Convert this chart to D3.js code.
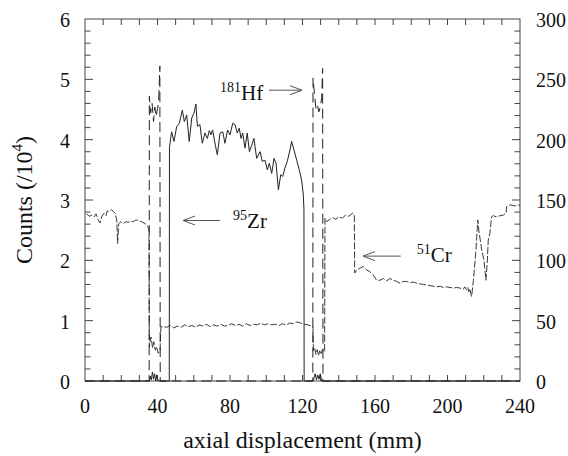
<!DOCTYPE html>
<html>
<head>
<meta charset="utf-8">
<script src="https://cdn.jsdelivr.net/npm/d3@7"></script>
<style>
  html, body { margin: 0; padding: 0; background: #fff; }
  svg { display: block; font-family: "Liberation Serif", "DejaVu Serif", serif; }
</style>
</head>
<body>
<svg id="chart"></svg>
<script>
// axial displacement (mm) / counts
const zrX = [0, 35.5, 36, 36.6, 37.2, 37.8, 38.4, 39, 39.6, 40.2, 41, 46.5, 46.6, 47.8, 49.1, 50.6, 52, 53.7, 54.8, 56.1, 57.5, 58.9, 60.1, 61.2, 62, 63.4, 64.7, 66.2, 67.5, 68.6, 69.5, 70.4, 71.9, 73, 74.5, 76, 77.2, 78.7, 80, 81.5, 82.8, 84, 85.1, 86.1, 87, 88.3, 89.5, 90.7, 92, 93.2, 94.7, 96.6, 97.8, 99.3, 100.6, 101.7, 103, 104.3, 105.4, 106.7, 108, 109.1, 110.3, 111.6, 113.1, 114, 115.3, 116.8, 118.2, 119.5, 120.4, 120.8, 120.9, 125.8, 126.3, 127, 127.7, 128.4, 129.1, 129.8, 130.5, 240];
const zrY = [0, 0, 0.08, 0.02, 0.15, 0.03, 0.12, 0, 0.1, 0.02, 0, 0, 3.87, 4.13, 3.97, 4.22, 4.27, 4.49, 4.30, 4.41, 3.97, 4.36, 4.44, 4.59, 4.22, 4.25, 3.94, 4.11, 4.02, 4.15, 4.08, 4.16, 3.91, 3.75, 4.11, 4.13, 3.94, 4.16, 4.08, 4.27, 4.25, 4.11, 4.19, 4.02, 4.11, 3.86, 4.11, 3.80, 3.91, 4.02, 3.69, 3.80, 3.64, 3.66, 3.50, 3.61, 3.44, 3.69, 3.61, 3.17, 3.42, 3.39, 3.53, 3.64, 3.83, 3.97, 3.83, 3.66, 3.50, 3.33, 3.10, 2.85, 0, 0, 0.05, 0.12, 0.02, 0.1, 0.03, 0.12, 0, 0];

const hfX = [0, 35.4, 35.5, 36.2, 37, 37.8, 38.5, 39.3, 40, 40.6, 41.3, 41.5, 125.7, 125.8, 126.6, 127.4, 128.2, 129, 129.8, 130.6, 131.1, 131.3, 240];
const hfY = [0, 0, 236, 222, 230, 215, 227, 219, 226, 230, 261, 0, 0, 251, 238, 226, 229, 223, 227, 235, 259, 0, 0];

const crX = [0.9, 2.4, 3.7, 5, 6.1, 7.3, 8.3, 9.2, 10.5, 11.6, 12.3, 13.4, 14.7, 15.6, 16.6, 17.5, 18, 18.6, 19.7, 21.1, 22.6, 23.9, 25.2, 26.7, 28.1, 29.4, 31.3, 33.1, 34.6, 35.3, 35.5, 36.4, 37.3, 38, 38.8, 39.5, 40.4, 41.4, 41.9, 43.2, 45, 47, 49, 51, 53, 55, 57, 59, 61, 63, 65, 67, 69, 71, 73, 75, 77, 79, 81, 83, 85, 87, 89, 91, 93, 95, 97, 99, 101, 103, 105, 107, 109, 111, 113, 115, 117, 119, 121, 123, 125, 125.8, 126, 126.7, 127.4, 128.1, 128.8, 129.5, 130.2, 131, 132.2, 132.4, 133.2, 134.7, 136.5, 138.3, 140.1, 142, 143.8, 145.6, 147.5, 148.6, 148.8, 149.9, 151.7, 153.6, 155.4, 157.2, 159, 160.9, 162.8, 164.6, 166.5, 168.3, 170.1, 172, 173.8, 175.6, 177.5, 179.3, 181.2, 183, 184.9, 186.7, 188.6, 190.4, 192.3, 194, 195.9, 197.8, 199.6, 201.4, 203.2, 205, 206.9, 208.7, 209.5, 210.6, 211.2, 211.7, 212.4, 212.8, 213.3, 214.3, 215.7, 216.7, 217.5, 218.9, 220.1, 221.2, 221.9, 222.5, 223.4, 224.3, 225.2, 227.1, 229, 230.8, 232.3, 232.6, 234.5, 237.2, 239.1, 240];
const crY = [138.5, 136.5, 137.5, 136, 138.5, 133.5, 131, 136, 139, 137, 141, 140.5, 142, 140.5, 139, 133.5, 114, 130.5, 132, 130.5, 132, 131.5, 132.5, 132, 133.5, 133, 132, 130.5, 128.5, 125, 28.5, 36.5, 27.5, 32.5, 25.5, 28.5, 23, 25.5, 45, 45, 44.5, 46, 44, 45.5, 44.5, 46.5, 45, 46, 44.5, 46.5, 45.5, 47, 45, 46.5, 45.5, 47, 45.5, 46, 47.5, 46, 47, 45.5, 47.5, 46, 47, 46.5, 48, 46.5, 47.5, 46.5, 47, 46, 47.5, 46.5, 48, 47.5, 49, 48, 47, 46.5, 45.5, 45, 25, 27, 22, 26, 21, 25, 22, 26, 24, 135, 132, 133.5, 135.5, 134, 136, 135, 137.5, 136.5, 139, 138, 89.5, 92, 93.5, 95, 92, 90.5, 88, 83.5, 83.5, 85, 83, 85, 83.5, 82.5, 81, 82.5, 82.5, 81.5, 82, 81, 80.5, 80, 79.5, 79, 78.5, 78, 78.5, 77.5, 78, 77.5, 77, 77.5, 77, 76, 78, 75.5, 77.5, 74, 76.5, 72.5, 70, 83.5, 108.5, 133.5, 122.5, 108.5, 100, 83.5, 97.5, 117, 122.5, 136, 137, 136, 137, 137.5, 139, 144.5, 146, 145, 146, 145];

const xTicks = [0, 40, 80, 120, 160, 200, 240];
const yLeftTicks = [0, 1, 2, 3, 4, 5, 6];
const yRightTicks = [0, 50, 100, 150, 200, 250, 300];

// labels: isotope mass number, symbol, text position, arrow from -> to (mm, left-axis units)
const labelMass = ["95", "181", "51"];
const labelSym = ["Zr", "Hf", "Cr"];
const labelPos = [[81.7, 2.54], [74.5, 4.66], [183, 1.97]];
const arrowFrom = [[74.5, 2.66], [101.5, 4.82], [174.2, 2.07]];
const arrowTo = [[54.1, 2.66], [119.7, 4.82], [153.4, 2.07]];

const width = 568, height = 456;
const margin = {top: 19, right: 48, bottom: 75, left: 85};
const innerW = width - margin.left - margin.right;
const innerH = height - margin.top - margin.bottom;

const x = d3.scaleLinear([0, 240], [0, innerW]);
const yL = d3.scaleLinear([0, 6], [innerH, 0]);
const yR = d3.scaleLinear([0, 300], [innerH, 0]);

const svg = d3.select("#chart")
  .attr("width", width)
  .attr("height", height)
  .attr("viewBox", [0, 0, width, height]);

const g = svg.append("g").attr("transform", `translate(${margin.left},${margin.top})`);

const ink = "#222";
const axisCol = "#444";

// frame
g.append("rect")
  .attr("width", innerW).attr("height", innerH)
  .attr("fill", "none").attr("stroke", axisCol).attr("stroke-width", 1);

// ticks (all pointing inwards)
const xMinor = d3.range(10, 240, 10);
g.append("g").selectAll("line").data(xMinor).join("line")
  .attr("x1", d => x(d)).attr("x2", d => x(d))
  .attr("y1", innerH).attr("y2", innerH - 6)
  .attr("stroke", axisCol);
g.append("g").selectAll("line").data(xMinor).join("line")
  .attr("x1", d => x(d)).attr("x2", d => x(d))
  .attr("y1", 0).attr("y2", 6)
  .attr("stroke", axisCol);

const yMinor = d3.range(0.2, 6, 0.2);
g.append("g").selectAll("line").data(yMinor).join("line")
  .attr("x1", 0)
  .attr("x2", d => Math.abs(d - Math.round(d)) < 1e-6 ? 8 : 5.5)
  .attr("y1", d => yL(d)).attr("y2", d => yL(d))
  .attr("stroke", axisCol);
g.append("g").selectAll("line").data(yMinor).join("line")
  .attr("x1", innerW)
  .attr("x2", d => innerW - (Math.abs(d - Math.round(d)) < 1e-6 ? 8 : 5.5))
  .attr("y1", d => yL(d)).attr("y2", d => yL(d))
  .attr("stroke", axisCol);

// tick labels
g.append("g").selectAll("text").data(xTicks).join("text")
  .attr("x", d => x(d)).attr("y", innerH + 32)
  .attr("text-anchor", "middle")
  .attr("font-size", 20).attr("fill", "#111")
  .text(d => d);

g.append("g").selectAll("text").data(yLeftTicks).join("text")
  .attr("x", -15).attr("y", d => yL(d)).attr("dy", "0.4em")
  .attr("text-anchor", "end")
  .attr("font-size", 20).attr("fill", "#111")
  .text(d => d);

g.append("g").selectAll("text").data(yRightTicks).join("text")
  .attr("x", innerW + 16).attr("y", d => yR(d)).attr("dy", "0.4em")
  .attr("text-anchor", "start")
  .attr("font-size", 20).attr("fill", "#111")
  .text(d => d);

// axis titles
svg.append("text")
  .attr("x", margin.left + innerW / 2).attr("y", 448)
  .attr("text-anchor", "middle")
  .attr("font-size", 24).attr("fill", "#111")
  .text("axial displacement (mm)");

const yTitle = svg.append("text")
  .attr("transform", `translate(32,${margin.top + innerH / 2}) rotate(-90)`)
  .attr("text-anchor", "middle")
  .attr("font-size", 24).attr("fill", "#111");
yTitle.append("tspan").text("Counts (/10");
yTitle.append("tspan").attr("font-size", 15).attr("dy", -10).text("4");
yTitle.append("tspan").attr("dy", 10).text(")");

// curves
const line = (xs, ys, scale) => d3.line()
  .x(i => x(xs[i]))
  .y(i => scale(ys[i]))(d3.range(xs.length));

g.append("path")
  .attr("d", line(crX, crY, yR))
  .attr("fill", "none").attr("stroke", ink)
  .attr("stroke-width", 0.9).attr("stroke-dasharray", "7,2");

g.append("path")
  .attr("d", line(hfX, hfY, yR))
  .attr("fill", "none").attr("stroke", ink)
  .attr("stroke-width", 1).attr("stroke-dasharray", "10,5");

g.append("path")
  .attr("d", line(zrX, zrY, yL))
  .attr("fill", "none").attr("stroke", ink)
  .attr("stroke-width", 1);

// labels and arrows
labelSym.forEach((sym, i) => {
  const t = g.append("text")
    .attr("x", x(labelPos[i][0])).attr("y", yL(labelPos[i][1]))
    .attr("font-size", 21).attr("fill", "#111");
  t.append("tspan").attr("font-size", 14).attr("dy", -8).text(labelMass[i]);
  t.append("tspan").attr("dy", 8).text(sym);

  const x1 = x(arrowFrom[i][0]), y1 = yL(arrowFrom[i][1]);
  const x2 = x(arrowTo[i][0]), y2 = yL(arrowTo[i][1]);
  const dir = Math.sign(x2 - x1);
  g.append("line")
    .attr("x1", x1).attr("y1", y1).attr("x2", x2).attr("y2", y2)
    .attr("stroke", "#555").attr("stroke-width", 1);
  g.append("path")
    .attr("d", `M${x2 - dir * 12},${y1 - 4.5}L${x2},${y2}L${x2 - dir * 12},${y1 + 4.5}`)
    .attr("fill", "none").attr("stroke", "#555").attr("stroke-width", 1);
});
</script>
</body>
</html>
